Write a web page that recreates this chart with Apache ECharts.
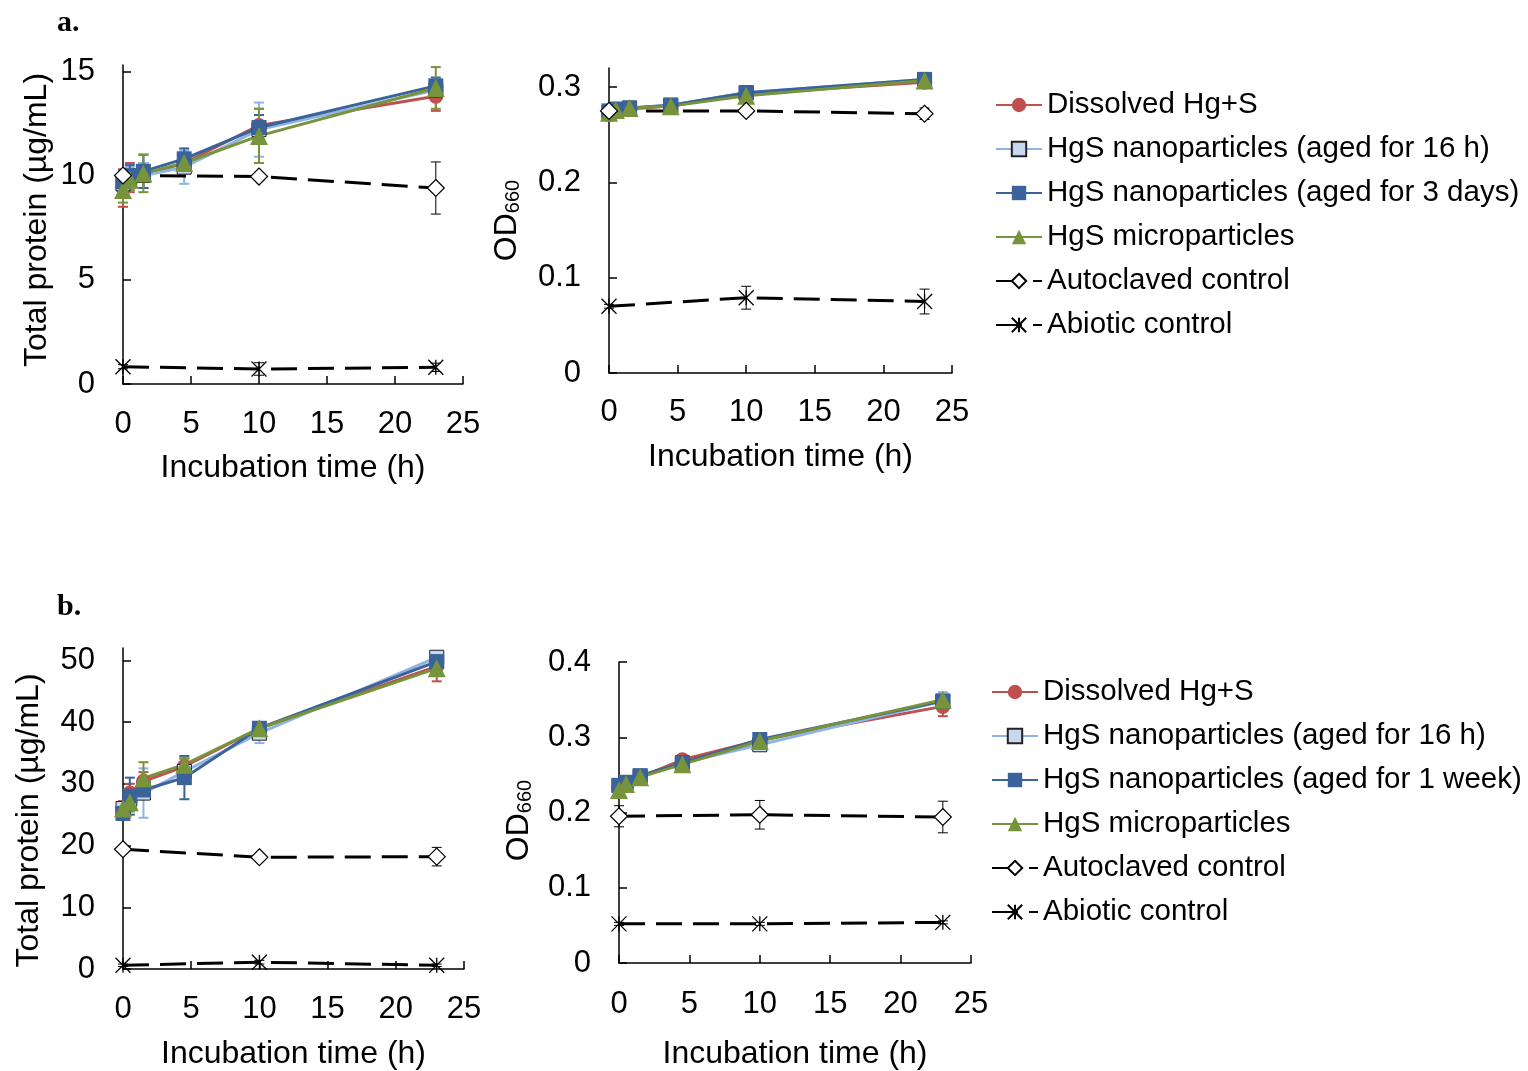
<!DOCTYPE html>
<html>
<head>
<meta charset="utf-8">
<script src="https://cdn.jsdelivr.net/npm/echarts@6/dist/echarts.min.js"></script>
<style>
  html, body { margin: 0; padding: 0; background: #fff; }
  #main { width: 1528px; height: 1071px; }
</style>
</head>
<body>
<div id="main"></div>
<script>
// sampling times (h)
const times = [0, 0.5, 1.5, 4.5, 10, 23];
const ctrlTimes = [0, 10, 23];

// a. total protein (ug/mL)
const protA_dissolved = [9.4, 9.9, 10.0, 10.6, 12.4, 13.8];
const protA_dissolvedErr = [0.9, 0.7, 0.6, 0.5, 0.8, 0.7];
const protA_nano16 = [9.6, 9.9, 10.0, 10.4, 12.2, 14.1];
const protA_nano16Err = [0.5, 0.5, 0.6, 0.8, 1.3, 0.4];
const protA_nano3d = [9.7, 10.0, 10.2, 10.8, 12.3, 14.3];
const protA_nano3dErr = [0.5, 0.5, 0.8, 0.5, 0.6, 0.4];
const protA_micro = [9.3, 9.8, 10.1, 10.6, 11.9, 14.2];
const protA_microErr = [0.6, 0.5, 0.9, 0.4, 1.3, 1.0];
const protA_autoclaved = [10.0, 9.95, 9.4];
const protA_autoclavedErr = [0.15, 0.1, 1.25];
const protA_abiotic = [0.83, 0.72, 0.8];
const protA_abioticErr = [0.1, 0.3, 0.2];

// a. OD660
const odA_dissolved = [0.271, 0.274, 0.277, 0.280, 0.293, 0.305];
const odA_dissolvedErr = [0.003, 0.003, 0.003, 0.003, 0.003, 0.004];
const odA_nano16 = [0.274, 0.276, 0.278, 0.281, 0.294, 0.308];
const odA_nano16Err = [0.002, 0.002, 0.002, 0.002, 0.003, 0.003];
const odA_nano3d = [0.275, 0.277, 0.278, 0.281, 0.294, 0.308];
const odA_nano3dErr = [0.002, 0.002, 0.002, 0.002, 0.003, 0.003];
const odA_micro = [0.273, 0.276, 0.278, 0.280, 0.291, 0.307];
const odA_microErr = [0.002, 0.002, 0.002, 0.002, 0.003, 0.003];
const odA_autoclaved = [0.275, 0.275, 0.272];
const odA_autoclavedErr = [0.002, 0.002, 0.006];
const odA_abiotic = [0.070, 0.079, 0.075];
const odA_abioticErr = [0.002, 0.012, 0.013];

// b. total protein (ug/mL)
const protB_dissolved = [26.0, 28.5, 30.4, 32.8, 39.0, 49.0];
const protB_dissolvedErr = [1.2, 1.5, 1.5, 1.3, 0.8, 2.4];
const protB_nano16 = [26.0, 27.5, 28.5, 32.0, 38.2, 50.5];
const protB_nano16Err = [1.0, 1.2, 4.0, 1.5, 1.6, 1.0];
const protB_nano1w = [25.2, 28.0, 29.0, 31.0, 39.0, 49.8];
const protB_nano1wErr = [1.0, 3.0, 1.5, 3.5, 0.6, 0.8];
const protB_micro = [26.0, 27.0, 30.9, 33.1, 39.0, 48.7];
const protB_microErr = [0.8, 1.5, 2.6, 1.0, 0.6, 1.0];
const protB_autoclaved = [19.4, 18.1, 18.2];
const protB_autoclavedErr = [0.3, 0.4, 1.5];
const protB_abiotic = [0.6, 1.1, 0.6];
const protB_abioticErr = [0.2, 0.3, 0.2];

// b. OD660
const odB_dissolved = [0.233, 0.238, 0.247, 0.270, 0.296, 0.341];
const odB_dissolvedErr = [0.005, 0.004, 0.004, 0.004, 0.004, 0.013];
const odB_nano16 = [0.236, 0.240, 0.248, 0.266, 0.290, 0.348];
const odB_nano16Err = [0.004, 0.004, 0.004, 0.004, 0.005, 0.012];
const odB_nano1w = [0.236, 0.240, 0.249, 0.266, 0.297, 0.348];
const odB_nano1wErr = [0.004, 0.004, 0.004, 0.004, 0.004, 0.006];
const odB_micro = [0.230, 0.238, 0.247, 0.264, 0.295, 0.350];
const odB_microErr = [0.004, 0.004, 0.004, 0.004, 0.004, 0.006];
const odB_autoclaved = [0.195, 0.197, 0.194];
const odB_autoclavedErr = [0.014, 0.019, 0.021];
const odB_abiotic = [0.052, 0.052, 0.054];
const odB_abioticErr = [0.002, 0.002, 0.002];

const protTicksA = [0, 5, 10, 15];
const odTicksA = [0, 0.1, 0.2, 0.3];
const protTicksB = [0, 10, 20, 30, 40, 50];
const odTicksB = [0, 0.1, 0.2, 0.3, 0.4];

const NAME_DIS = 'Dissolved Hg+S';
const NAME_N16 = 'HgS nanoparticles (aged for 16 h)';
const NAME_N3D = 'HgS nanoparticles (aged for 3 days)';
const NAME_N1W = 'HgS nanoparticles (aged for 1 week)';
const NAME_MIC = 'HgS microparticles';
const NAME_AUTO = 'Autoclaved control';
const NAME_ABIO = 'Abiotic control';

const FONT = '"Liberation Sans", Arial, sans-serif';
const ASTERISK = 'path://M0,0L20,20M20,0L0,20M10,0L10,20';

const styles = {
  dis:  { color: '#C0504D', symbol: 'circle', symbolSize: 15, fill: '#C0504D', border: '#C0504D', bw: 0, lw: 3, dash: 'solid', err: '#C0504D', ew: 2 },
  n16:  { color: '#8EB4E3', symbol: 'rect', symbolSize: 14, fill: '#C6D9F1', border: '#222', bw: 1, lw: 3, dash: 'solid', err: '#8EB4E3', ew: 2 },
  nano: { color: '#3A639B', symbol: 'rect', symbolSize: 15, fill: '#3A639B', border: '#3A639B', bw: 0, lw: 3, dash: 'solid', err: '#3A639B', ew: 2 },
  mic:  { color: '#77933C', symbol: 'triangle', symbolSize: 18, fill: '#77933C', border: '#77933C', bw: 0, lw: 3, dash: 'solid', err: '#77933C', ew: 2 },
  auto: { color: '#000', symbol: 'diamond', symbolSize: 17, fill: '#fff', border: '#000', bw: 1.2, lw: 3, dash: [26, 11], err: '#000', ew: 1 },
  abio: { color: '#000', symbol: ASTERISK, symbolSize: 15, fill: 'rgba(0,0,0,0)', border: '#000', bw: 1.3, lw: 3, dash: [26, 11], err: '#000', ew: 1 }
};

function lineSeries(gi, name, xs, ys, st) {
  return {
    type: 'line', name: name, xAxisIndex: gi, yAxisIndex: gi,
    data: xs.map((x, i) => [x, ys[i]]),
    symbol: st.symbol, symbolSize: st.symbolSize, showSymbol: true,
    lineStyle: { color: st.color, width: st.lw, type: st.dash },
    itemStyle: { color: st.fill, borderColor: st.border, borderWidth: st.bw },
    z: 3, animation: false, silent: true
  };
}

function errSeries(gi, name, xs, ys, es, st) {
  return {
    type: 'custom', name: name + ' error', xAxisIndex: gi, yAxisIndex: gi,
    data: xs.map((x, i) => [x, ys[i] - es[i], ys[i] + es[i]]),
    encode: { x: 0, y: [1, 2] },
    z: 2, silent: true, animation: false,
    renderItem: function (params, api) {
      const lo = api.coord([api.value(0), api.value(1)]);
      const hi = api.coord([api.value(0), api.value(2)]);
      const c = 5;
      const s = { stroke: st.err, lineWidth: st.ew };
      return {
        type: 'group',
        children: [
          { type: 'line', shape: { x1: lo[0], y1: lo[1], x2: hi[0], y2: hi[1] }, style: s },
          { type: 'line', shape: { x1: lo[0] - c, y1: lo[1], x2: lo[0] + c, y2: lo[1] }, style: s },
          { type: 'line', shape: { x1: hi[0] - c, y1: hi[1], x2: hi[0] + c, y2: hi[1] }, style: s }
        ]
      };
    }
  };
}

function panel(gi, list) {
  const out = [];
  list.forEach(p => out.push(errSeries(gi, p[0], p[1], p[2], p[3], p[4])));
  list.forEach(p => out.push(lineSeries(gi, p[0], p[1], p[2], p[4])));
  return out;
}

const series = [].concat(
  panel(0, [
    [NAME_DIS, times, protA_dissolved, protA_dissolvedErr, styles.dis],
    [NAME_N16, times, protA_nano16, protA_nano16Err, styles.n16],
    [NAME_N3D, times, protA_nano3d, protA_nano3dErr, styles.nano],
    [NAME_MIC, times, protA_micro, protA_microErr, styles.mic],
    [NAME_AUTO, ctrlTimes, protA_autoclaved, protA_autoclavedErr, styles.auto],
    [NAME_ABIO, ctrlTimes, protA_abiotic, protA_abioticErr, styles.abio]
  ]),
  panel(1, [
    [NAME_DIS, times, odA_dissolved, odA_dissolvedErr, styles.dis],
    [NAME_N16, times, odA_nano16, odA_nano16Err, styles.n16],
    [NAME_N3D, times, odA_nano3d, odA_nano3dErr, styles.nano],
    [NAME_MIC, times, odA_micro, odA_microErr, styles.mic],
    [NAME_AUTO, ctrlTimes, odA_autoclaved, odA_autoclavedErr, styles.auto],
    [NAME_ABIO, ctrlTimes, odA_abiotic, odA_abioticErr, styles.abio]
  ]),
  panel(2, [
    [NAME_DIS, times, protB_dissolved, protB_dissolvedErr, styles.dis],
    [NAME_N16, times, protB_nano16, protB_nano16Err, styles.n16],
    [NAME_N1W, times, protB_nano1w, protB_nano1wErr, styles.nano],
    [NAME_MIC, times, protB_micro, protB_microErr, styles.mic],
    [NAME_AUTO, ctrlTimes, protB_autoclaved, protB_autoclavedErr, styles.auto],
    [NAME_ABIO, ctrlTimes, protB_abiotic, protB_abioticErr, styles.abio]
  ]),
  panel(3, [
    [NAME_DIS, times, odB_dissolved, odB_dissolvedErr, styles.dis],
    [NAME_N16, times, odB_nano16, odB_nano16Err, styles.n16],
    [NAME_N1W, times, odB_nano1w, odB_nano1wErr, styles.nano],
    [NAME_MIC, times, odB_micro, odB_microErr, styles.mic],
    [NAME_AUTO, ctrlTimes, odB_autoclaved, odB_autoclavedErr, styles.auto],
    [NAME_ABIO, ctrlTimes, odB_abiotic, odB_abioticErr, styles.abio]
  ])
);

const axisLine = { onZero: false, lineStyle: { color: '#000', width: 1.5 } };
const axisTick = { inside: true, length: 8, lineStyle: { color: '#000', width: 1.5 } };
const txt = { fontSize: 31, color: '#000', fontFamily: FONT };
const nameTxt = { fontSize: 32, color: '#000', fontFamily: FONT };

function xAxis(gi, margin, gap) {
  return {
    type: 'value', gridIndex: gi, min: 0, max: 25, interval: 5,
    name: 'Incubation time (h)', nameLocation: 'middle', nameGap: gap,
    nameTextStyle: nameTxt,
    axisLine: axisLine, axisTick: axisTick,
    axisLabel: Object.assign({ margin: margin }, txt),
    splitLine: { show: false }
  };
}

function yAxis(gi, max, ticks, name, gap, rich, pad) {
  const ax = {
    type: 'value', gridIndex: gi, min: 0, max: max,
    name: name, nameLocation: 'middle', nameGap: gap, nameRotate: 90,
    nameTextStyle: Object.assign({ padding: pad }, nameTxt),
    axisLine: axisLine,
    axisTick: Object.assign({ customValues: ticks }, axisTick),
    axisLabel: Object.assign({ margin: 28, customValues: ticks }, txt),
    splitLine: { show: false }
  };
  if (rich) {
    ax.nameTextStyle.rich = {
      m: { fontSize: 32, fontFamily: FONT, color: '#000', lineHeight: 34, verticalAlign: 'bottom' },
      s: { fontSize: 20, fontFamily: FONT, color: '#000', lineHeight: 34, verticalAlign: 'bottom' }
    };
  }
  return ax;
}

const legendBase = {
  orient: 'vertical', itemWidth: 46, itemHeight: 18, itemGap: 12, padding: 0,
  textStyle: { fontSize: 29.5, color: '#000', fontFamily: FONT, lineHeight: 32 },
  selectedMode: false
};

const option = {
  backgroundColor: '#fff',
  animation: false,
  grid: [
    { left: 123, right: 1528 - 463, top: 65, bottom: 1071 - 384, outerBoundsMode: 'none' },
    { left: 609, right: 1528 - 952, top: 68, bottom: 1071 - 373, outerBoundsMode: 'none' },
    { left: 123, right: 1528 - 464, top: 648, bottom: 1071 - 969, outerBoundsMode: 'none' },
    { left: 619, right: 1528 - 971, top: 662, bottom: 1071 - 963, outerBoundsMode: 'none' }
  ],
  xAxis: [xAxis(0, 25, 68), xAxis(1, 24, 68), xAxis(2, 25, 69), xAxis(3, 26, 75)],
  yAxis: [
    yAxis(0, 15.3, protTicksA, 'Total protein (µg/mL)', 70, false, [0, 0, 0, 9]),
    yAxis(1, 0.32, odTicksA, '{m|OD}{s|660}', 86, true, [0, 0, 0, 0]),
    yAxis(2, 52, protTicksB, 'Total protein (µg/mL)', 78, false, [0, 24, 0, 0]),
    yAxis(3, 0.4, odTicksB, '{m|OD}{s|660}', 84, true, [0, 16, 0, 0])
  ],
  legend: [
    Object.assign({ left: 995, top: 89, data: [NAME_DIS, NAME_N16, NAME_N3D, NAME_MIC, NAME_AUTO, NAME_ABIO] }, legendBase),
    Object.assign({ left: 991, top: 676, data: [NAME_DIS, NAME_N16, NAME_N1W, NAME_MIC, NAME_AUTO, NAME_ABIO] }, legendBase)
  ],
  graphic: [
    { type: 'text', left: 57, top: 8, style: { text: 'a.', font: 'bold 30px "Liberation Serif", "Times New Roman", serif', fill: '#000' } },
    { type: 'text', left: 57, top: 592, style: { text: 'b.', font: 'bold 30px "Liberation Serif", "Times New Roman", serif', fill: '#000' } }
  ],
  series: series
};

const chart = echarts.init(document.getElementById('main'));
chart.setOption(option);
</script>
</body>
</html>
